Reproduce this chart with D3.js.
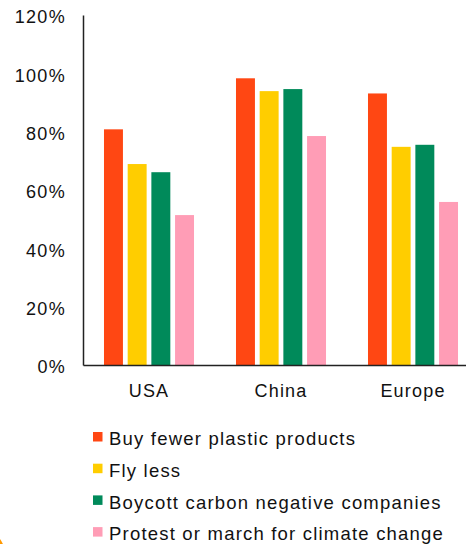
<!DOCTYPE html>
<html>
<head>
<meta charset="utf-8">
<script src="https://cdn.jsdelivr.net/npm/d3@7"></script>
<style>
  html, body { margin: 0; padding: 0; background: #fff; }
  svg { display: block; font-family: "Liberation Sans", Arial, sans-serif; }
</style>
</head>
<body>
<svg id="chart" width="466" height="544"></svg>
<script>
// Regions on the x axis
const regions = ["USA", "China", "Europe"];
// Climate actions people say they would take
const actions = [
  "Buy fewer plastic products",
  "Fly less",
  "Boycott carbon negative companies",
  "Protest or march for climate change"
];
const actionColors = ["#FF4713", "#FFCD00", "#008A5A", "#FF9DB6"];
// Share of respondents per action, one array per region (same order as actions)
const usaValues = [0.808, 0.689, 0.661, 0.514];
const chinaValues = [0.983, 0.939, 0.946, 0.785];
const europeValues = [0.931, 0.748, 0.755, 0.559];
const yTicks = [0, 0.2, 0.4, 0.6, 0.8, 1.0, 1.2];

const seriesByRegion = [usaValues, chinaValues, europeValues];
const rows = regions.map((r, i) => ({
  region: r,
  values: actions.map((a, j) => ({ action: a, idx: j, value: seriesByRegion[i][j] }))
}));

const svg = d3.select("#chart");
const plot = { left: 83, top: 15, bottom: 365, right: 479 };

const y = d3.scaleLinear().domain([0, 1.2]).range([plot.bottom, plot.top]);
const x0 = d3.scaleBand().domain(regions).range([plot.left, plot.right])
  .paddingInner(0.318).paddingOuter(0.159);
const x1 = d3.scaleBand().domain(d3.range(actions.length)).range([0, x0.bandwidth()])
  .paddingInner(0.2);
const color = d3.scaleOrdinal().domain(d3.range(actions.length)).range(actionColors);

// Bars
svg.append("g").selectAll("g")
  .data(rows).join("g")
  .attr("transform", d => `translate(${x0(d.region)},0)`)
  .selectAll("rect")
  .data(d => d.values).join("rect")
  .attr("x", d => x1(d.idx))
  .attr("width", x1.bandwidth())
  .attr("y", d => y(d.value))
  .attr("height", d => y(0) - y(d.value))
  .attr("fill", d => color(d.idx));

// Y axis
const yAxis = svg.append("g")
  .attr("transform", `translate(${plot.left},0)`)
  .call(d3.axisLeft(y).tickValues(yTicks).tickFormat(d3.format(".0%")).tickSize(0).tickPadding(17));
yAxis.select(".domain").attr("stroke", "#222").attr("stroke-width", 1.5);
yAxis.selectAll("text")
  .attr("font-size", 18).attr("fill", "#111")
  .attr("dy", "0.43em")
  .style("letter-spacing", "1.3px")
  .attr("font-family", "Liberation Sans, Arial, sans-serif");

// X axis
const xAxis = svg.append("g")
  .attr("transform", `translate(0,${plot.bottom})`)
  .call(d3.axisBottom(x0).tickSize(0).tickPadding(19));
xAxis.select(".domain").attr("stroke", "#222").attr("stroke-width", 1.5);
xAxis.selectAll("text")
  .attr("font-size", 18).attr("fill", "#111")
  .style("letter-spacing", "1.2px")
  .attr("font-family", "Liberation Sans, Arial, sans-serif");

// Legend
const legend = svg.append("g").attr("transform", "translate(93,432)");
const item = legend.selectAll("g").data(actions).join("g")
  .attr("transform", (d, i) => `translate(0,${i * 31.7})`);
item.append("rect").attr("width", 9.5).attr("height", 9.5)
  .attr("fill", (d, i) => color(i));
item.append("text")
  .attr("x", 16).attr("y", 13.3)
  .attr("font-size", 18.5).attr("fill", "#111")
  .style("letter-spacing", "1.2px")
  .text(d => d);

// Partial orange logo mark at the lower-left corner
svg.append("circle")
  .attr("cx", -30).attr("cy", 560).attr("r", 34)
  .attr("fill", "none").attr("stroke", "#FF9900").attr("stroke-width", 5);
</script>
</body>
</html>
